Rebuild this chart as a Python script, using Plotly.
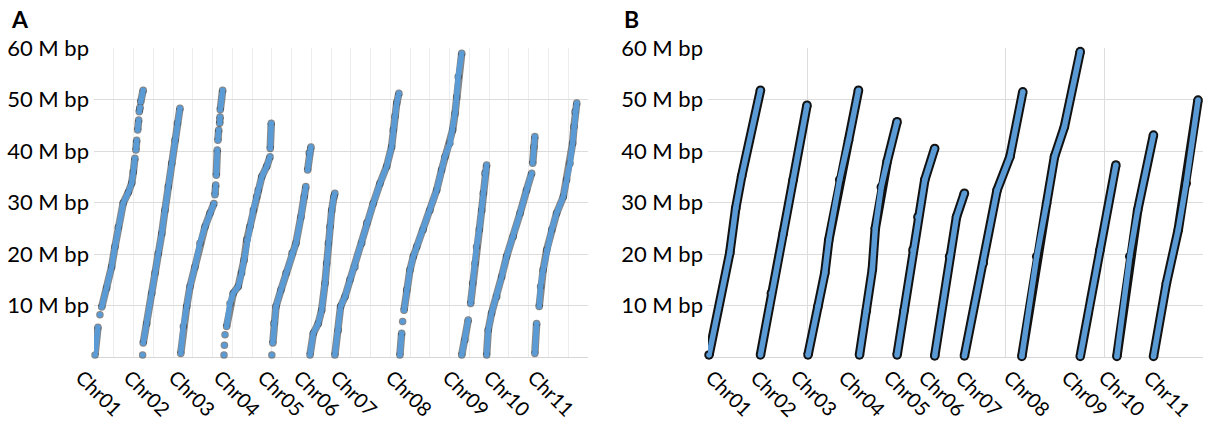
import plotly.graph_objects as go

chroms = ["Chr01", "Chr02", "Chr03", "Chr04", "Chr05", "Chr06",
          "Chr07", "Chr08", "Chr09", "Chr10", "Chr11"]

# ---------------- Panel A: cumulative map position (x) vs physical position (M bp) ----
# None marks a gap between runs of markers
a01_x = [5, 20, None, 30, None, 39, 64, 89, 106, 123, 148, 174, 191, 199, 207, None, 212, 216, None, 221, 226, None, 229, 233, None, 236, 249]
a01_y = [0.4, 5.8, None, 8.2, None, 9.7, 13.4, 17.5, 21.4, 25.2, 29.9, 32.0, 33.8, 35.9, 38.6, None, 40.2, 42.1, None, 44.1, 46.0, None, 47.6, 48.5, None, 49.5, 51.8]
a02_x = [246, None, 249, 267, 292, 309, 325, 343, 359, 376, 393, 410, 422, 435]
a02_y = [0.4, None, 2.7, 6.5, 12.4, 16.3, 20.1, 24.0, 28.5, 33.1, 37.6, 42.1, 45.4, 48.3]
a03_x = [439, 452, 469, 486, 511, 536, 562, 587, 607, None, 612, 616, None, 619, 624, None, 627, 631, None, 636, 638, None, 639, 651]
a03_y = [0.7, 5.9, 9.8, 13.7, 17.5, 22.1, 25.3, 27.9, 29.8, None, 31.5, 33.4, None, 35.3, 40.2, None, 42.1, 44.1, None, 45.4, 46.6, None, 48.0, 51.8]
a04_x = [658, None, 660, None, 663, None, 671, 688, 705, 730, 747, 759, 773, 789, 806, 823, 831, 849, 874, 891, None, 892, 897]
a04_y = [0.4, None, 2.3, None, 4.3, None, 5.9, 10.4, 12.4, 13.7, 16.3, 18.8, 22.7, 25.3, 28.5, 31.1, 32.4, 35.0, 37.0, 38.9, None, 40.5, 45.4]
a05_x = [900, None, 905, 910, 921, 946, 972, 1002, 1022, 1047, 1064, 1072, None, 1081, 1089, 1098]
a05_y = [0.4, None, 2.7, 6.5, 9.8, 13.0, 16.3, 20.2, 22.1, 27.2, 31.1, 33.1, None, 36.3, 39.6, 40.8]
a06_x = [1093, 1110, 1135, 1152, 1169, 1177, 1186, 1194, 1203, 1214, 1219]
a06_y = [0.4, 4.6, 6.5, 9.1, 14.3, 18.2, 22.1, 25.3, 28.5, 31.1, 31.8]
a07_x = [1219, 1236, 1248, 1270, 1295, 1321, 1355, 1380, 1413, 1447, 1481, 1506, 1514, 1523, 1532, 1543]
a07_y = [0.4, 5.2, 9.8, 11.7, 15.0, 17.5, 22.1, 26.0, 29.8, 33.7, 37.0, 40.8, 44.1, 46.7, 49.3, 51.2]
a08_x = [1548, 1557, None, 1562, None, 1569, 1582, 1599, 1616, 1633, 1666, 1700, 1734, 1759, 1776, 1801, 1815, 1827, 1835, 1843, 1861]
a08_y = [0.4, 4.6, None, 6.9, None, 9.1, 13.0, 16.9, 19.5, 21.4, 24.7, 28.5, 32.4, 36.3, 38.9, 41.5, 44.1, 47.3, 50.5, 54.4, 59.0]
a09_x = [1861, 1877, 1894, None, 1906, 1916, 1928, 1936, 1950, 1962, 1970, 1978, 1987]
a09_y = [0.4, 3.3, 7.2, None, 10.4, 14.3, 18.2, 21.4, 24.7, 28.5, 31.8, 35.7, 37.3]
a10_x = [1987, 1995, 2012, 2038, 2063, 2088, 2122, 2156, 2189, 2215, None, 2220, 2226, 2231]
a10_y = [0.4, 5.2, 8.5, 11.7, 15.6, 19.5, 23.4, 27.9, 32.4, 35.7, None, 37.6, 40.8, 42.8]
a11_x = [2231, 2240, None, 2253, 2260, 2273, 2291, 2316, 2341, 2375, 2392, 2409, 2422, 2429, 2434, 2443]
a11_y = [0.7, 6.5, None, 9.8, 13.7, 16.9, 20.8, 24.7, 27.9, 31.1, 34.4, 37.6, 41.5, 44.7, 47.6, 49.3]

# ---------------- Panel B: cumulative physical position (x) vs physical position ----
b01_x = [1, 22, 28, 34, 53]
b01_y = [0.4, 20.2, 28.9, 35.1, 51.8]
b02_x = [53, 64, 76, 86, 100]
b02_y = [0.4, 12.4, 24.0, 34.4, 48.9]
b03_x = [101, 111, 118, 122, 133, 142, 152]
b03_y = [0.4, 9.8, 16.3, 22.7, 34.4, 42.1, 51.8]
b04_x = [153, 160, 166, 169, 175, 181, 191]
b04_y = [0.4, 9.0, 17.0, 25.0, 33.0, 38.0, 45.7]
b05_x = [191, 198, 207, 212, 219, 229]
b05_y = [0.4, 9.0, 20.8, 27.2, 34.4, 40.5]
b06_x = [229, 244, 251, 259]
b06_y = [0.2, 19.5, 27.2, 31.8]
b07_x = [259, 278, 292, 305, 318]
b07_y = [0.2, 18.2, 32.4, 38.9, 51.5]
b08_x = [317, 332, 342, 350, 360, 376]
b08_y = [0.1, 19.5, 29.8, 38.9, 44.7, 59.3]
b09_x = [376, 396, 412]
b09_y = [0.1, 20.8, 37.3]
b10_x = [413, 426, 434, 450]
b10_y = [0.1, 19.5, 28.5, 43.1]
b11_x = [450, 463, 475, 483, 495]
b11_y = [0.1, 14.3, 24.7, 33.7, 49.9]

# chromosome label positions along each x axis (where each label's text begins)
label_x_a = [-96, 147, 374, 602, 825, 1007, 1194, 1472, 1761, 1968, 2191]
label_x_b = [-3, 42, 83, 131, 177, 212, 249, 298, 356, 394, 439]

y_ticks = [10, 20, 30, 40, 50, 60]
y_ticktext = ["10 M bp", "20 M bp", "30 M bp", "40 M bp", "50 M bp", "60 M bp"]
grid_dark_a = [100, 600, 800, 1400, 2100, 2200]
grid_b = [0, 100, 300, 400]

a_series = [(a01_x, a01_y), (a02_x, a02_y), (a03_x, a03_y), (a04_x, a04_y), (a05_x, a05_y),
            (a06_x, a06_y), (a07_x, a07_y), (a08_x, a08_y), (a09_x, a09_y), (a10_x, a10_y),
            (a11_x, a11_y)]
b_series = [(b01_x, b01_y), (b02_x, b02_y), (b03_x, b03_y), (b04_x, b04_y), (b05_x, b05_y),
            (b06_x, b06_y), (b07_x, b07_y), (b08_x, b08_y), (b09_x, b09_y), (b10_x, b10_y),
            (b11_x, b11_y)]

W, H = 1207, 422
BLUE = "#5b9bd5"
FONT = "Lato"
RANGE_A = [0, 2500]
RANGE_B = [0, 500]
dom_a = [94 / W, 588 / W]
dom_b = [708 / W, 1203 / W]
dom_y = [1 - 357 / H, 1 - 48 / H]

fig = go.Figure()

for name, (xs, ys) in zip(chroms, a_series):
    fig.add_trace(go.Scatter(x=xs, y=ys, mode="lines+markers", xaxis="x", yaxis="y",
                             line=dict(color="rgba(35,35,35,0.55)", width=7.5),
                             marker=dict(color="rgba(35,35,35,0.55)", size=7.5),
                             cliponaxis=False, showlegend=False, hoverinfo="skip"))
    fig.add_trace(go.Scatter(x=xs, y=ys, mode="lines+markers", xaxis="x", yaxis="y", name=name,
                             line=dict(color=BLUE, width=5.5),
                             marker=dict(color=BLUE, size=5.5),
                             cliponaxis=False, showlegend=False))

for name, (xs, ys) in zip(chroms, b_series):
    fig.add_trace(go.Scatter(x=xs, y=ys, mode="lines+markers", xaxis="x2", yaxis="y2",
                             line=dict(color="#111111", width=9.5),
                             marker=dict(color="#111111", size=9.5),
                             cliponaxis=False, showlegend=False, hoverinfo="skip"))
    fig.add_trace(go.Scatter(x=xs, y=ys, mode="lines+markers", xaxis="x2", yaxis="y2", name=name,
                             line=dict(color=BLUE, width=5.5),
                             marker=dict(color=BLUE, size=5.5),
                             cliponaxis=False, showlegend=False))

yax = dict(range=[0, 60], domain=dom_y, tickmode="array", tickvals=y_ticks, ticktext=y_ticktext,
           showgrid=True, gridcolor="#dcdcdc", gridwidth=1, zeroline=True, zerolinecolor="#d6d6d6",
           zerolinewidth=1, showline=False, ticks="", ticklabelstandoff=4, automargin=False,
           tickfont=dict(family=FONT, size=22, color="#000000"), fixedrange=True)

fig.update_layout(
    width=W, height=H, autosize=False,
    margin=dict(l=0, r=0, t=0, b=0, pad=0),
    paper_bgcolor="white", plot_bgcolor="white",
    xaxis=dict(domain=dom_a, range=RANGE_A, anchor="y", tickmode="linear", tick0=0, dtick=100,
               showgrid=True, gridcolor="#ededed", showticklabels=False, ticks="",
               zeroline=False, showline=False, automargin=False),
    xaxis3=dict(overlaying="x", anchor="y", range=RANGE_A, tickmode="array", tickvals=grid_dark_a,
                showgrid=True, gridcolor="#d4d4d4", showticklabels=False, ticks="",
                zeroline=False, showline=False, automargin=False),
    yaxis=dict(anchor="x", **yax),
    xaxis2=dict(domain=dom_b, range=RANGE_B, anchor="y2", tickmode="array", tickvals=grid_b,
                showgrid=True, gridcolor="#dcdcdc", showticklabels=False, ticks="",
                zeroline=False, showline=False, automargin=False),
    yaxis2=dict(anchor="x2", **yax),
)


def to_paper(v, rng, dom):
    return dom[0] + (v - rng[0]) / (rng[1] - rng[0]) * (dom[1] - dom[0])


LABEL_DX = -6 / W          # rotated text box edge sits a little left of the ink
LABEL_TOP = 1 - 362 / H

for name, xv in zip(chroms, label_x_a):
    fig.add_annotation(text=name, x=to_paper(xv, RANGE_A, dom_a) + LABEL_DX, xref="paper",
                       y=LABEL_TOP, yref="paper", xanchor="left", yanchor="top",
                       textangle=45, showarrow=False,
                       font=dict(family=FONT, size=20, color="#000000"))
for name, xv in zip(chroms, label_x_b):
    fig.add_annotation(text=name, x=to_paper(xv, RANGE_B, dom_b) + LABEL_DX, xref="paper",
                       y=LABEL_TOP, yref="paper", xanchor="left", yanchor="top",
                       textangle=45, showarrow=False,
                       font=dict(family=FONT, size=20, color="#000000"))

# panel letters
fig.add_annotation(text="<b>A</b>", x=9 / W, y=1 - 3 / H, xref="paper", yref="paper",
                   xanchor="left", yanchor="top", showarrow=False,
                   font=dict(family=FONT, size=23, color="#000000"))
fig.add_annotation(text="<b>B</b>", x=622 / W, y=1 - 3 / H, xref="paper", yref="paper",
                   xanchor="left", yanchor="top", showarrow=False,
                   font=dict(family=FONT, size=23, color="#000000"))

fig.write_html("out.html",
               config={"displayModeBar": False, "staticPlot": True},
               post_script="document.body.style.margin='0px';"
                           "document.documentElement.style.overflow='hidden';")
